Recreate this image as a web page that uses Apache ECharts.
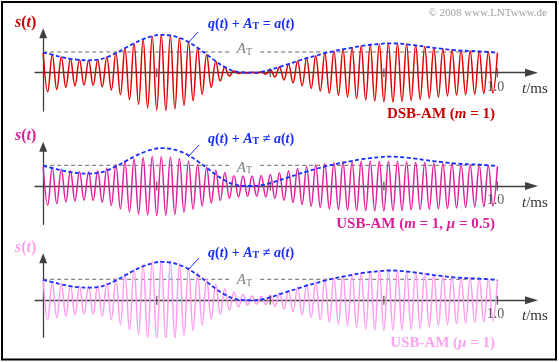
<!DOCTYPE html>
<html><head><meta charset="utf-8">
<script src="https://cdn.jsdelivr.net/npm/echarts@6/dist/echarts.min.js"></script>
<style>html,body{margin:0;padding:0;background:#fff}#c{width:559px;height:362px}</style>
</head><body><div id="c"></div>
<script>
// ---------------- data ----------------
const extremeStep = 0.01;   // ms between successive carrier extremes (50 kHz carrier)
const envelopeStep = 0.02;  // ms between envelope samples
const AT = 1;               // carrier amplitude A_T
const tickValues = [0.25, 0.5, 0.75, 1.0];
const tickLabels = ['', '', '', '1.0'];

// a(t) = q(t) + A_T  (blue dashed), t = 0, 0.02, ..., 1.0 ms
const envelopeA = [
  0.97, 0.87, 0.76, 0.67, 0.62, 0.60, 0.63, 0.75, 0.95, 1.18,
  1.42, 1.62, 1.76, 1.83, 1.80, 1.68, 1.48, 1.20, 0.88, 0.55,
  0.27, 0.08, 0.01, 0.00, 0.04, 0.14, 0.28, 0.42, 0.56, 0.70,
  0.82, 0.94, 1.04, 1.13, 1.21, 1.29, 1.35, 1.39, 1.42, 1.41,
  1.37, 1.32, 1.26, 1.20, 1.15, 1.10, 1.07, 1.05, 1.03, 1.00,
  0.96
];

// carrier extremes of s(t), t = 0, 0.01, ..., 1.0 ms
const dsbExtremes = [
  0.97, -0.92, 0.87, -0.81, 0.76, -0.71, 0.67, -0.64, 0.62, -0.60,
  0.60, -0.61, 0.63, -0.68, 0.75, -0.84, 0.95, -1.06, 1.18, -1.30,
  1.42, -1.53, 1.62, -1.70, 1.76, -1.81, 1.83, -1.83, 1.80, -1.75,
  1.68, -1.59, 1.48, -1.35, 1.20, -1.04, 0.88, -0.71, 0.55, -0.40,
  0.27, -0.16, 0.08, -0.04, 0.02, -0.02, 0.02, -0.02, 0.04, -0.08,
  0.14, -0.21, 0.28, -0.35, 0.42, -0.49, 0.56, -0.63, 0.70, -0.76,
  0.82, -0.88, 0.94, -0.99, 1.04, -1.09, 1.13, -1.17, 1.21, -1.25,
  1.29, -1.32, 1.35, -1.37, 1.39, -1.41, 1.42, -1.42, 1.41, -1.39,
  1.37, -1.35, 1.32, -1.29, 1.26, -1.23, 1.20, -1.17, 1.15, -1.12,
  1.10, -1.08, 1.07, -1.06, 1.05, -1.04, 1.03, -1.01, 1.00, -0.98,
  0.96
];
const usbHalfExtremes = [
  0.93, -0.92, 0.90, -0.85, 0.81, -0.77, 0.74, -0.72, 0.70, -0.69,
  0.69, -0.70, 0.74, -0.79, 0.86, -0.94, 1.02, -1.10, 1.18, -1.25,
  1.31, -1.35, 1.38, -1.40, 1.42, -1.43, 1.43, -1.42, 1.40, -1.37,
  1.33, -1.27, 1.20, -1.12, 1.04, -0.96, 0.89, -0.82, 0.76, -0.70,
  0.65, -0.60, 0.56, -0.53, 0.51, -0.50, 0.49, -0.50, 0.51, -0.53,
  0.56, -0.60, 0.64, -0.69, 0.74, -0.79, 0.84, -0.89, 0.94, -0.98,
  1.02, -1.05, 1.08, -1.10, 1.12, -1.14, 1.15, -1.16, 1.17, -1.18,
  1.19, -1.19, 1.20, -1.20, 1.20, -1.20, 1.20, -1.19, 1.19, -1.18,
  1.17, -1.16, 1.15, -1.14, 1.13, -1.12, 1.11, -1.10, 1.09, -1.08,
  1.07, -1.06, 1.05, -1.04, 1.03, -1.02, 1.01, -1.00, 0.98, -0.97,
  0.95
];
const usbFullExtremes = [
  0.98, -0.93, 0.88, -0.84, 0.79, -0.75, 0.72, -0.70, 0.68, -0.67,
  0.67, -0.68, 0.71, -0.76, 0.84, -0.93, 1.04, -1.15, 1.27, -1.40,
  1.52, -1.62, 1.72, -1.80, 1.86, -1.90, 1.92, -1.91, 1.88, -1.83,
  1.76, -1.67, 1.56, -1.44, 1.31, -1.17, 1.03, -0.90, 0.78, -0.66,
  0.56, -0.47, 0.39, -0.33, 0.28, -0.23, 0.20, -0.18, 0.18, -0.20,
  0.24, -0.29, 0.35, -0.41, 0.48, -0.55, 0.62, -0.69, 0.76, -0.82,
  0.88, -0.94, 1.00, -1.05, 1.10, -1.15, 1.19, -1.23, 1.27, -1.31,
  1.34, -1.37, 1.39, -1.41, 1.42, -1.43, 1.44, -1.44, 1.43, -1.42,
  1.40, -1.38, 1.36, -1.33, 1.30, -1.27, 1.24, -1.21, 1.18, -1.16,
  1.14, -1.12, 1.10, -1.08, 1.07, -1.05, 1.04, -1.02, 1.00, -0.98,
  0.96
];

const panelSignals = [dsbExtremes, usbHalfExtremes, usbFullExtremes];
const formulaRelations = ['=', '\u2260', '\u2260'];

// ---------------- layout / style ----------------
const SERIF = '"Liberation Serif","Times New Roman",serif';
const AXIS = '#404040';
const BLUE = '#1a2eff';
const lineColors = ['#dd0000', '#e0209e', '#ff9cf0'];
const textColors = ['#c80000', '#dc1f96', '#ffa2f0'];
const X_MIN = -0.018, X_MAX = 1.075;
const grids = [
  {top: 33.3, height: 77.7, yMin: -1.85, yMax: 1.903},
  {top: 146.7, height: 77.6, yMin: -1.85, yMax: 1.899},
  {top: 258.3, height: 79.0, yMin: -1.762, yMax: 2.0}
];

const toXY = (arr, step) => arr.map((v, i) => [+(i * step).toFixed(3), v]);

const option = {
  animation: false,
  backgroundColor: '#fff',
  grid: grids.map(g => ({left: 35, right: 27.5, top: g.top, height: g.height})),
  xAxis: grids.map((g, p) => ({
    gridIndex: p, type: 'value', min: X_MIN, max: X_MAX,
    axisLine: {show: true, onZero: true, symbol: ['none', 'triangle'], symbolSize: [8, 13],
      lineStyle: {color: AXIS, width: 1.3}},
    axisTick: {show: false}, axisLabel: {show: false}, splitLine: {show: false}
  })),
  yAxis: grids.map((g, p) => ({
    gridIndex: p, type: 'value', min: g.yMin, max: g.yMax,
    axisLine: {show: true, onZero: true, symbol: ['none', 'triangle'], symbolSize: [8, 10],
      lineStyle: {color: AXIS, width: 1.3}},
    axisTick: {show: false}, axisLabel: {show: false}, splitLine: {show: false}
  })),
  series: []
};

panelSignals.forEach((sig, p) => {
  option.series.push({
    type: 'line', xAxisIndex: p, yAxisIndex: p, data: [[0, AT], [1, AT]],
    showSymbol: false, silent: true, z: 1,
    lineStyle: {color: '#6a6a6a', width: 1, type: [4, 3]}
  });
  option.series.push({
    type: 'line', xAxisIndex: p, yAxisIndex: p, data: toXY(sig, extremeStep),
    showSymbol: false, smooth: 0.4, silent: true, z: 2,
    lineStyle: {color: lineColors[p], width: 1.5}
  });
  option.series.push({
    type: 'line', xAxisIndex: p, yAxisIndex: p, data: toXY(envelopeA, envelopeStep),
    showSymbol: false, smooth: 0.5, silent: true, z: 3,
    lineStyle: {color: BLUE, width: 1.8, type: [4, 2.5]}
  });
  option.series.push({
    type: 'scatter', xAxisIndex: p, yAxisIndex: p, data: tickValues.map(v => [v, 0]),
    symbol: 'rect', symbolSize: [1.3, 9], silent: true, z: 4,
    itemStyle: {color: AXIS},
    label: {show: true, position: 'bottom', distance: 3, offset: [-2, 0],
      formatter: q => tickLabels[q.dataIndex], fontFamily: SERIF, fontSize: 14, color: '#333'}
  });
});

// ---------------- texts ----------------
const graphics = [];
function rich(x, y, text, richStyles, base, align) {
  graphics.push({type: 'text', x: x, y: y, z: 100, silent: true,
    style: Object.assign({text: text, align: align || 'left', verticalAlign: 'middle',
      fontFamily: SERIF, rich: richStyles}, base)});
}
function tokens(color, size, weight) {
  return {
    i: {fontFamily: SERIF, fontSize: size, fontStyle: 'italic', fontWeight: weight, fill: color, color: color, lineHeight: size + 4, verticalAlign: 'bottom'},
    n: {fontFamily: SERIF, fontSize: size, fontStyle: 'normal', fontWeight: weight, fill: color, color: color, lineHeight: size + 4, verticalAlign: 'bottom'},
    sub: {fontFamily: SERIF, fontSize: Math.round(size * 0.68), fontStyle: 'normal', fontWeight: weight, fill: color, color: color, lineHeight: Math.round(size * 0.55), verticalAlign: 'bottom'}
  };
}
const sLabelY = [20.5, 133.5, 246];
const formulaY = [22, 137.5, 251];
const atLabelY = [47.5, 166, 278.5];
const tmsY = [87.5, 201.5, 314];
const modY = [112.5, 222, 341.5];
const modTexts = [
  '{n|DSB-AM (}{i|m}{n| = 1)}',
  '{n|USB-AM (}{i|m}{n| = 1, }{i|\u03bc}{n| = 0.5)}',
  '{n|USB-AM (}{i|\u03bc}{n| = 1)}'
];
const pointerLines = [[198, 32, 188, 43], [199, 145, 188, 157], [199, 258, 188, 270]];

for (let p = 0; p < 3; p++) {
  rich(15, sLabelY[p], '{i|s}{n|(}{i|t}{n|)}', tokens(textColors[p], 16, 'bold'), {});
  rich(208, formulaY[p], '{i|q}{n|(}{i|t}{n|) + }{i|A}{sub|T}{n| ' + formulaRelations[p] + ' }{i|a}{n|(}{i|t}{n|)}',
    tokens(BLUE, 14, 'bold'), {});
  rich(244.5, atLabelY[p], '{i|A}{sub|T}', tokens('#808080', 15, 'normal'),
    {backgroundColor: '#fff', padding: [0, 5]}, 'center');
  rich(522, tmsY[p], '{i|t}{n|/ms}', tokens('#333', 15, 'normal'), {});
  rich(495, modY[p], modTexts[p], tokens(textColors[p], 15, 'bold'), {}, 'right');
  const L = pointerLines[p];
  graphics.push({type: 'line', z: 100, silent: true, shape: {x1: L[0], y1: L[1], x2: L[2], y2: L[3]},
    style: {stroke: BLUE, lineWidth: 1}});
}
graphics.push({type: 'text', x: 547, y: 13.5, z: 100, silent: true,
  style: {text: '\u00a9 2008 www.LNTwww.de', align: 'right', verticalAlign: 'middle',
    fontFamily: SERIF, fontSize: 11, fill: '#a0a0a0'}});
graphics.push({type: 'rect', z: 100, silent: true, shape: {x: 2, y: 2, width: 554, height: 357.5},
  style: {fill: 'none', stroke: '#000', lineWidth: 2}});
option.graphic = graphics;

const chart = echarts.init(document.getElementById('c'), null, {renderer: 'canvas'});
chart.setOption(option);
</script>
</body></html>
